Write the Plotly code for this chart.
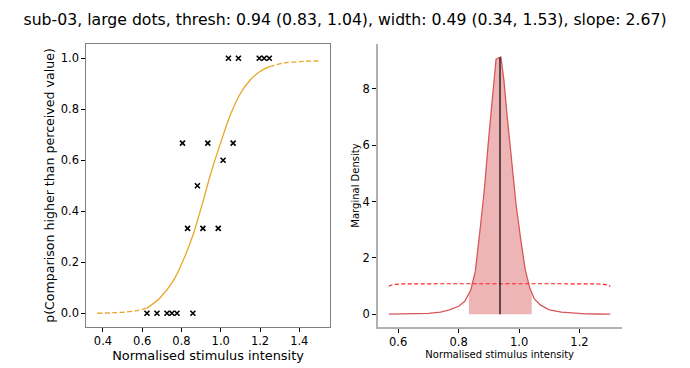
import numpy as np
import plotly.graph_objects as go

# ---------------- data ----------------
title_text = "sub-03, large dots, thresh: 0.94 (0.83, 1.04), width: 0.49 (0.34, 1.53), slope: 2.67)"

# observed proportions (left panel)
obs_x = [1.039, 1.090, 1.196, 1.221, 1.247,
         0.805, 0.934, 1.063,
         1.012,
         0.881,
         0.831, 0.909, 0.987,
         0.624, 0.675, 0.726, 0.751, 0.777, 0.858]
obs_y = [1.0, 1.0, 1.0, 1.0, 1.0,
         0.667, 0.667, 0.667,
         0.6,
         0.5,
         0.333, 0.333, 0.333,
         0.0, 0.0, 0.0, 0.0, 0.0, 0.0]

# fitted psychometric curve
fit_x = [0.37, 0.45, 0.52, 0.58, 0.624, 0.69, 0.76, 0.81, 0.86, 0.91, 0.95, 1.00,
         1.05, 1.10, 1.15, 1.20, 1.247, 1.32, 1.40, 1.50]
fit_y = [0.0, 0.002, 0.005, 0.011, 0.02, 0.06, 0.13, 0.21, 0.31, 0.44, 0.55, 0.67,
         0.78, 0.862, 0.915, 0.948, 0.967, 0.981, 0.987, 0.99]
data_min_x = 0.624
data_max_x = 1.247

# marginal density of threshold (right panel)
dens_x = [0.569, 0.62, 0.66, 0.70, 0.74, 0.77, 0.80, 0.82, 0.84, 0.855, 0.87, 0.885,
          0.90, 0.915, 0.924, 0.94, 0.95, 0.96, 0.975, 0.99, 1.005, 1.02, 1.035,
          1.05, 1.07, 1.10, 1.14, 1.18, 1.22, 1.26, 1.302]
dens_y = [0.0, 0.004, 0.01, 0.03, 0.07, 0.15, 0.28, 0.45, 0.85, 1.5, 2.9, 4.4,
          6.3, 8.0, 9.05, 9.13, 8.3, 7.1, 5.5, 3.9, 2.7, 1.6, 0.95,
          0.55, 0.33, 0.15, 0.07, 0.03, 0.012, 0.005, 0.0]
ci_low, ci_high = 0.834, 1.042
thresh = 0.937

# prior (dashed)
prior_x = [0.569, 0.578, 0.59, 0.605, 0.63, 1.24, 1.265, 1.28, 1.292, 1.302]
prior_y = [0.99, 1.035, 1.06, 1.07, 1.075, 1.075, 1.07, 1.06, 1.035, 0.99]

# ---------------- figure ----------------
fig = go.Figure()

fit_x_a = np.array(fit_x)
fit_y_a = np.array(fit_y)
left_mask = fit_x_a <= data_min_x
mid_mask = (fit_x_a >= data_min_x) & (fit_x_a <= data_max_x)
right_mask = fit_x_a >= data_max_x
curve_col = "#E8A628"
for m, dash in [(left_mask, "5px,2.5px"), (mid_mask, "solid"), (right_mask, "5px,2.5px")]:
    fig.add_trace(go.Scatter(x=fit_x_a[m], y=fit_y_a[m], mode="lines",
                             line=dict(color=curve_col, width=1.3, dash=dash, shape="spline", smoothing=0.8),
                             xaxis="x", yaxis="y", showlegend=False, hoverinfo="skip"))

fig.add_trace(go.Scatter(x=obs_x, y=obs_y, mode="markers",
                         marker=dict(symbol="x-thin", size=5, line=dict(color="black", width=1.6)),
                         xaxis="x", yaxis="y", showlegend=False))

# shaded CI
dx = np.array(dens_x)
dy = np.array(dens_y)
inside = (dx > ci_low) & (dx < ci_high)
fx = np.concatenate([[ci_low], dx[inside], [ci_high]])
fy = np.concatenate([[np.interp(ci_low, dx, dy)], dy[inside], [np.interp(ci_high, dx, dy)]])
fx = np.concatenate([[ci_low], fx, [ci_high]])
fy = np.concatenate([[0], fy, [0]])
fig.add_trace(go.Scatter(x=fx, y=fy, mode="none", fill="toself", fillcolor="rgba(214,90,90,0.45)",
                         xaxis="x2", yaxis="y2", showlegend=False, hoverinfo="skip"))
fig.add_trace(go.Scatter(x=dens_x, y=dens_y, mode="lines",
                         line=dict(color="#D85858", width=1.3),
                         xaxis="x2", yaxis="y2", showlegend=False))
fig.add_trace(go.Scatter(x=prior_x, y=prior_y, mode="lines",
                         line=dict(color="#FF1F1F", width=1.2, dash="4px,2.5px", shape="spline"),
                         xaxis="x2", yaxis="y2", showlegend=False))
fig.add_trace(go.Scatter(x=[thresh, thresh], y=[0, float(np.interp(thresh, dx, dy))], mode="lines",
                         line=dict(color="black", width=1.2),
                         xaxis="x2", yaxis="y2", showlegend=False))

font = "DejaVu Sans"
tickfont = dict(family=font, size=11.5, color="black")
ybot = (368 - 327) / 368
ytop = (368 - 44) / 368

fig.update_layout(
    width=690, height=368,
    margin=dict(l=0, r=0, t=0, b=0),
    paper_bgcolor="white", plot_bgcolor="white",
    font=dict(family=font, color="black"),
    title=dict(text=title_text, x=0.5, xanchor="center", y=1 - 20 / 368, yanchor="middle",
               font=dict(family=font, size=15.7, color="black")),
    xaxis=dict(domain=[86 / 690, 330 / 690], range=[0.3135, 1.5565],
               tickvals=[0.4, 0.6, 0.8, 1.0, 1.2, 1.4], ticktext=["0.4", "0.6", "0.8", "1.0", "1.2", "1.4"],
               ticks="outside", ticklen=3.5, tickcolor="black", showgrid=False, zeroline=False,
               showline=True, linecolor="#808080", linewidth=1.3, mirror=True, tickfont=tickfont,
               title=dict(text="Normalised stimulus intensity", font=dict(family=font, size=12.9), standoff=1),
               anchor="y"),
    yaxis=dict(domain=[ybot, ytop], range=[-0.054, 1.056],
               tickvals=[0, 0.2, 0.4, 0.6, 0.8, 1.0], ticktext=["0.0", "0.2", "0.4", "0.6", "0.8", "1.0"],
               ticks="outside", ticklen=3.5, tickcolor="black", showgrid=False, zeroline=False,
               showline=True, linecolor="#808080", linewidth=1.3, mirror=True, tickfont=tickfont,
               title=dict(text="p(Comparison higher than perceived value)", font=dict(family=font, size=12.6), standoff=3),
               anchor="x"),
    xaxis2=dict(domain=[377.7 / 690, 621.7 / 690], range=[0.5324, 1.3396],
                tickvals=[0.6, 0.8, 1.0, 1.2], ticktext=["0.6", "0.8", "1.0", "1.2"],
                ticks="outside", ticklen=3.5, tickcolor="black", showgrid=False, zeroline=False,
                showline=True, linecolor="#b0b0b0", linewidth=2, tickfont=tickfont,
                title=dict(text="Normalised stimulus intensity", font=dict(family=font, size=10), standoff=2),
                anchor="y2"),
    yaxis2=dict(domain=[ybot, ytop], range=[-0.456, 9.59],
                tickvals=[0, 2, 4, 6, 8], ticktext=["0", "2", "4", "6", "8"],
                ticks="outside", ticklen=3.5, tickcolor="black", showgrid=False, zeroline=False,
                showline=True, linecolor="#b0b0b0", linewidth=2, tickfont=tickfont,
                title=dict(text="Marginal Density", font=dict(family=font, size=10), standoff=1),
                anchor="x2"),
)

fig.write_html("out.html", config={"displayModeBar": False},
               post_script="document.body.style.margin='0';document.body.style.overflow='hidden';")
